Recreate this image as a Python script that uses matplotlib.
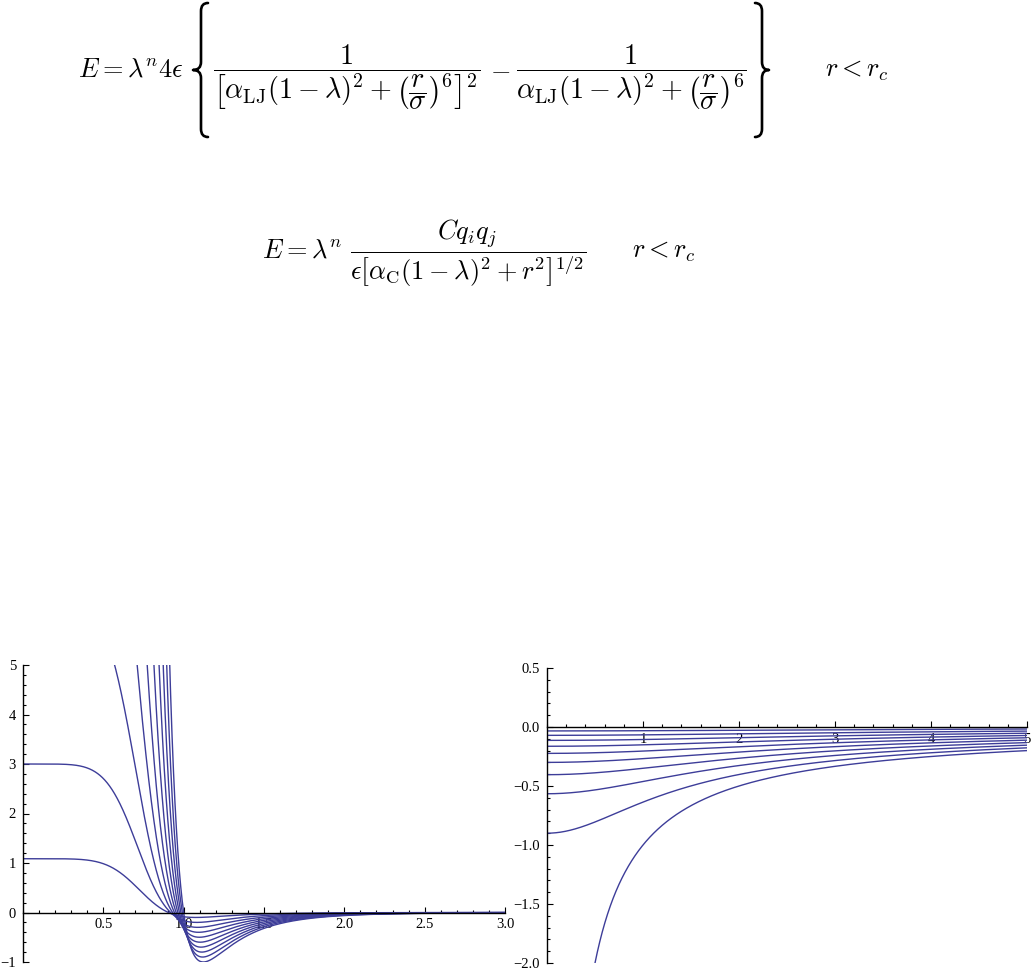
import numpy as np
import matplotlib
matplotlib.use("Agg")
import matplotlib.pyplot as plt
from matplotlib.ticker import MultipleLocator, FixedLocator
from matplotlib.path import Path
from matplotlib.patches import PathPatch

plt.rcParams["mathtext.fontset"] = "cm"
plt.rcParams["font.family"] = ["Liberation Serif", "DejaVu Serif"]

# soft-core parameters
lambdas = [0.1, 0.2, 0.3, 0.4, 0.5, 0.6, 0.7, 0.8, 0.9, 1.0]
alpha_lj = 0.5
alpha_c = 10.0
n_power = 1

lj_xticks = [0.5, 1.0, 1.5, 2.0, 2.5, 3.0]
lj_yticks = [-1, 0, 1, 2, 3, 4, 5]
c_xticks = [1, 2, 3, 4, 5]
c_yticks = [0.5, 0.0, -0.5, -1.0, -1.5, -2.0]

line_color = (0.24, 0.24, 0.6)

W, H = 1032, 974
fig = plt.figure(figsize=(W / 100, H / 100), dpi=100)
FS = 19


def put(x, y, s, ha="left", fs=FS):
    # x, y in pixels from the top-left corner, y is the baseline
    fig.text(x / W, 1 - y / H, s, ha=ha, va="baseline", fontsize=fs)


def brace(x_tip, x_stem, x_cusp, y_top, y_bot, rad=8):
    y_mid = (y_top + y_bot) / 2
    pts = [(x_tip, y_top), (x_stem, y_top), (x_stem, y_top + rad),
           (x_stem, y_mid - rad), (x_stem, y_mid), (x_cusp, y_mid),
           (x_stem, y_mid), (x_stem, y_mid + rad),
           (x_stem, y_bot - rad), (x_stem, y_bot), (x_tip, y_bot)]
    codes = [Path.MOVETO, Path.CURVE3, Path.CURVE3, Path.LINETO,
             Path.CURVE3, Path.CURVE3, Path.CURVE3, Path.CURVE3,
             Path.LINETO, Path.CURVE3, Path.CURVE3]
    pts = [(px / W, 1 - py / H) for px, py in pts]
    fig.add_artist(PathPatch(Path(pts, codes), transform=fig.transFigure,
                             fill=False, lw=1.9, color="black",
                             capstyle="round", joinstyle="round"))


# equation 1 (Lennard-Jones)
put(78, 77, r"$E=\lambda^n 4\epsilon$")
put(213, 77, r"$\dfrac{1}{\left[\alpha_{\mathrm{LJ}}(1-\lambda)^2"
             r"+\left(\dfrac{r}{\sigma}\right)^6\right]^2}$", fs=20.3)
put(500, 77, r"$-$", ha="center")
put(747, 77, r"$\dfrac{1}{\alpha_{\mathrm{LJ}}(1-\lambda)^2"
             r"+\left(\dfrac{r}{\sigma}\right)^6}$", ha="right", fs=20.3)
brace(208, 201, 193, 3, 137)
brace(755, 762, 769, 3, 137)
put(825, 77, r"$r<r_c$")

# equation 2 (Coulomb)
put(262, 258, r"$E=\lambda^n$")
put(350, 258, r"$\dfrac{Cq_iq_j}{\epsilon\left[\alpha_{\mathrm{C}}(1-\lambda)^2"
              r"+r^2\right]^{1/2}}$")
put(632, 258, r"$r<r_c$")


def style(ax, xmaj, xmin, ymaj, ymin):
    for s in ["top", "right"]:
        ax.spines[s].set_visible(False)
    ax.spines["bottom"].set_position(("data", 0))
    ax.spines["left"].set_position(("data", 0))
    for s in ["bottom", "left"]:
        ax.spines[s].set_linewidth(1.0)
    ax.xaxis.set_major_locator(FixedLocator(xmaj))
    ax.xaxis.set_minor_locator(MultipleLocator(xmin))
    ax.yaxis.set_major_locator(FixedLocator(ymaj))
    ax.yaxis.set_minor_locator(MultipleLocator(ymin))
    ax.tick_params(which="both", direction="in", labelsize=10.5, width=0.8)
    ax.tick_params(which="major", length=4.5)
    ax.tick_params(which="minor", length=2.5)
    ax.tick_params(axis="x", pad=4)
    ax.tick_params(axis="y", pad=5)
    ax.patch.set_alpha(0)


# Lennard-Jones soft core
ax1 = fig.add_axes([23 / W, 12 / H, 482 / W, 297 / H])
r = np.linspace(0.0005, 3, 4000)
for lam in lambdas:
    d = alpha_lj * (1 - lam) + r ** 6
    e = lam ** n_power * 4 * (1 / d ** 2 - 1 / d)
    ax1.plot(r, e, color=line_color, lw=1.0)
ax1.set_xlim(0, 3)
ax1.set_ylim(-1, 5)
style(ax1, lj_xticks, 0.1, lj_yticks, 0.2)
ax1.set_xticklabels(["%.1f" % v for v in lj_xticks])
ax1.set_yticklabels(["\u2212%d" % -v if v < 0 else "%d" % v for v in lj_yticks])

# Coulomb soft core
ax2 = fig.add_axes([547 / W, 11 / H, 480 / W, 295 / H])
r = np.linspace(0.0005, 5, 4000)
for lam in lambdas:
    e = -lam ** n_power / np.sqrt(alpha_c * (1 - lam) + r ** 2)
    ax2.plot(r, e, color=line_color, lw=1.0)
ax2.set_xlim(0, 5)
ax2.set_ylim(-2, 0.5)
style(ax2, c_xticks, 0.2, c_yticks, 0.1)
ax2.set_xticklabels(["%d" % v for v in c_xticks])
ax2.set_yticklabels(["\u2212%.1f" % -v if v < 0 else "%.1f" % v for v in c_yticks])

fig.savefig("out.png", dpi=100)
